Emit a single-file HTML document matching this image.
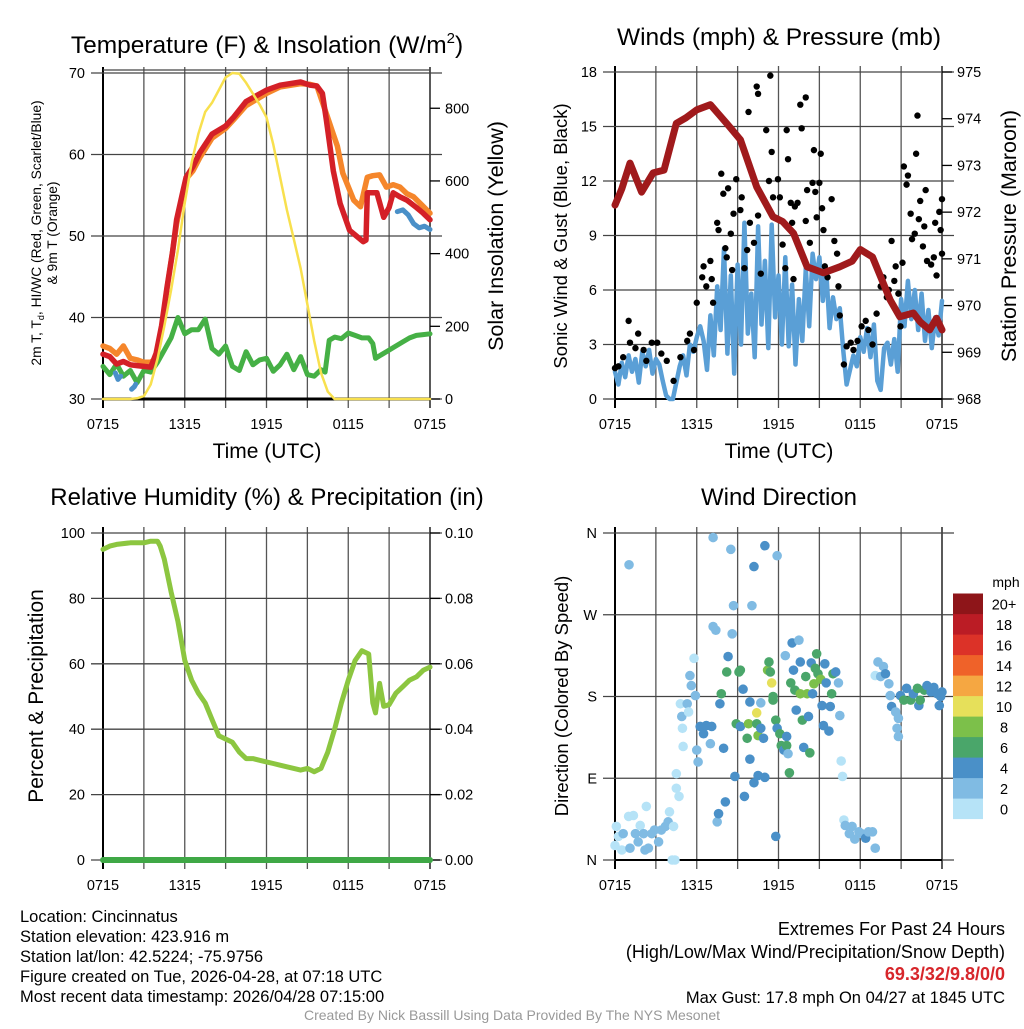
<!DOCTYPE html>
<html><head><meta charset="utf-8"><style>
body{margin:0;background:#fff;width:1024px;height:1024px;overflow:hidden;font-family:"Liberation Sans",Arial,sans-serif;}
svg text{font-family:"Liberation Sans",Arial,sans-serif;}
</style></head><body>
<svg id="chart" width="1024" height="1024" viewBox="0 0 1024 1024" xmlns="http://www.w3.org/2000/svg">
<g id="static">
<text x="267" y="53" font-size="24.5" text-anchor="middle">Temperature (F) &amp; Insolation (W/m<tspan dy="-10" font-size="15">2</tspan><tspan dy="10">)</tspan></text>
<text x="779" y="45" font-size="24.5" text-anchor="middle">Winds (mph) &amp; Pressure (mb)</text>
<text x="267" y="505" font-size="24" text-anchor="middle">Relative Humidity (%) &amp; Precipitation (in)</text>
<text x="779" y="505" font-size="24" text-anchor="middle">Wind Direction</text>
<text transform="translate(41,233) rotate(-90)" font-size="13.8" text-anchor="middle">2m T, T<tspan font-size="9" dy="3">d</tspan><tspan dy="-3">, HI/WC (Red, Green, Scarlet/Blue)</tspan></text>
<text transform="translate(57,233) rotate(-90)" font-size="13.8" text-anchor="middle">&amp; 9m T (Orange)</text>
<text transform="translate(503,236) rotate(-90)" font-size="21.5" text-anchor="middle">Solar Insolation (Yellow)</text>
<text transform="translate(567,236) rotate(-90)" font-size="18.5" text-anchor="middle">Sonic Wind &amp; Gust (Blue, Black)</text>
<text transform="translate(1016,236) rotate(-90)" font-size="21.5" text-anchor="middle">Station Pressure (Maroon)</text>
<text transform="translate(43,696) rotate(-90)" font-size="21" text-anchor="middle">Percent &amp; Precipitation</text>
<text transform="translate(568,696) rotate(-90)" font-size="18.5" text-anchor="middle">Direction (Colored By Speed)</text>
<text x="267" y="458" font-size="21" text-anchor="middle">Time (UTC)</text>
<text x="779" y="458" font-size="21" text-anchor="middle">Time (UTC)</text>
<text x="1006" y="587" font-size="14" text-anchor="middle">mph</text>
<g font-size="16.5">
<text x="20" y="922">Location: Cincinnatus</text>
<text x="20" y="942">Station elevation: 423.916 m</text>
<text x="20" y="962">Station lat/lon: 42.5224; -75.9756</text>
<text x="20" y="982">Figure created on Tue, 2026-04-28, at 07:18 UTC</text>
<text x="20" y="1002">Most recent data timestamp: 2026/04/28 07:15:00</text>
</g>
<g font-size="18">
<text x="1005" y="935" text-anchor="end">Extremes For Past 24 Hours</text>
<text x="1005" y="958" text-anchor="end">(High/Low/Max Wind/Precipitation/Snow Depth)</text>
<text x="1005" y="980" text-anchor="end" font-weight="bold" fill="#d7262b">69.3/32/9.8/0/0</text>
<text x="1005" y="1003" text-anchor="end" font-size="16.5">Max Gust: 17.8 mph On 04/27 at 1845 UTC</text>
</g>
<text x="512" y="1020" text-anchor="middle" font-size="14" fill="#999">Created By Nick Bassill Using Data Provided By The NYS Mesonet</text>
</g>
<g id="dyn"></g>
</svg>
<script>
// ---- data ----
const timeTicks = ["0715","1315","1915","0115","0715"];
const tempTicks = [30,40,50,60,70];
const solarTicks = [0,200,400,600,800];
const windTicks = [0,3,6,9,12,15,18];
const presTicks = [968,969,970,971,972,973,974,975];
const rhTicks = [0,20,40,60,80,100];
const precipTicks = ["0.00","0.02","0.04","0.06","0.08","0.10"];
const dirTicks = ["N","E","S","W","N"];
const legendLabels = ["0","2","4","6","8","10","12","14","16","18","20+"];

const redT = [0,0.5,1,1.5,2,2.5,3,3.5,3.9,4.3,4.7,5.1,5.4,5.8,6.1,6.6,7.1,8,9,9.6,10.5,12,13,14.5,15.2,15.7,16.1,16.4,16.9,17.4,18.1,18.6,19.1,19.3,19.4,20.1,20.6,21,21.3,21.8,22.3,23,23.5,24];
const redV = [35.5,35.2,34.3,34.6,34.2,34.1,34.0,33.9,35.6,39,43.7,48,52,55,57.2,58.5,60.2,62.5,63.5,64.6,66.5,67.9,68.5,68.9,68.5,68.4,67.5,64.2,58,54,50.7,50,49.3,49.5,55.3,55.3,52.3,53.5,55.3,54.8,54.4,53.5,52.8,52];
const orgT = [0,0.5,1,1.5,2,2.5,3,3.5,3.9,4.3,4.7,5.1,5.4,5.8,6.1,6.6,7.1,8,9,9.6,10.5,12,13,14.5,15.2,15.7,16.4,16.8,17.2,17.6,18.4,18.9,19.4,19.8,20.3,20.8,21.3,21.8,22.3,22.8,23.4,24];
const orgV = [36.5,36.2,35.5,36.5,35,34.8,34.5,34.5,35,38.5,43.5,48,51.5,54.8,57,58,59.6,62,63.2,64.3,66,67.5,68.3,68.7,68.6,68.4,65,63,61,57.7,54.4,53.6,57.2,57.4,57.5,56,56.3,56,55.2,54.8,53.8,52.8];
const blueT = [0.9,1.1,1.3, 2.1,2.3,2.4, 21.6,22,22.4,22.8,23.2,23.6,24];
const blueV = [33.2,32.4,32.8, 31.2,31.5,31.8, 53,53.2,52.6,51.5,51,51.2,50.8];
const dewT = [0,0.5,1,1.5,2,2.5,3,3.5,4,4.5,5,5.5,6,6.5,7,7.5,8,8.5,9,9.5,10,10.5,11,11.5,12,12.5,13,13.5,14,14.5,15,15.5,16,16.3,16.6,17,17.5,18,18.5,19,19.5,19.8,20,20.5,21,21.5,22,22.5,23,23.5,24];
const dewV = [34,33,34.3,32.8,33.5,32,33.5,33.3,34.5,36,37.5,40,38,38.5,38.5,39.8,36.2,35.5,36.5,34,33.5,35.8,34.2,34.8,35,33.4,34.2,35.5,33.6,35.2,33,32.8,33.6,33.3,37.2,37.6,37.4,38.1,37.8,37.5,37.5,36.8,35,35.5,36,36.5,37,37.5,37.8,37.9,38];
const solT = [0,2,2.5,3,3.5,4,4.5,5,5.5,6,6.5,7,7.5,8,8.5,9,9.5,10,10.5,11,11.5,12,12.5,13,13.5,14,14.5,15,15.5,16,16.5,17,24];
const solV = [0,0,2,8,40,110,200,300,410,540,650,730,790,815,850,885,897,895,870,840,810,775,700,610,520,440,360,260,160,72,20,0,0];

const windV = [1.5,0.8,2.0,1.2,2.4,1.5,2.2,0.9,2.6, 1.8,2.7,1.4,2.2,1.9,1.0,0.2,0.0, 0.0,0.9,1.8,2.4,1.3,3.0,2.6,3.4, 4.0,3.2,1.6,4.6,2.4,6.2,3.8,8.3, 2.5,6.8,1.4,7.4,3.0,9.7,3.6,5.8, 2.3,9.5,4.1,7.6,2.8,9.6,4.5,6.8, 3.0,7.8,2.9,6.3,1.9,5.5,3.2,7.2, 4.0,8.0,6.6,7.8,5.4,7.1,3.9,5.6, 4.4,5.0,2.7,0.8,1.6,2.4,1.8,3.4, 2.6,3.9,2.3,4.1,1.0,0.5,2.8,3.1, 1.9,3.3,1.5,5.5,4.0,6.5,4.4,6.0, 3.8,5.8,3.2,4.9,2.8,4.5,3.5,5.4];
const gustT = [0,0.25,0.6,1,1.1,1.5,1.7,2.1,2.3,2.7,3.1,3.4,3.8,4.3,4.8,5.3,5.5,5.8,6,6.4,6.5,6.7,7,7.1,7.2,7.5,7.6,7.8,7.95,8.1,8.2,8.3,8.5,8.6,8.7,8.9,9.2,9.3,9.5,9.7,9.8,9.9,10.2,10.4,10.5,10.5,10.7,11.1,11.3,11.4,11.5,11.6,11.96,12.1,12.3,12.5,12.6,12.7,12.9,13,13.1,13.2,13.4,13.6,13.7,14,14,14.1,14.3,14.5,14.6,14.7,14.8,15,15.1,15.2,15.3,15.4,15.6,15.9,16.1,16.3,16.4,16.5,16.8,17,17.3,17.5,17.8,18.1,18.4,18.6,18.9,19.2,19.5,19.7,19.95,20.1,20.3,20.5,20.6,20.8,20.95,21.1,21.2,21.4,21.5,21.7,21.8,22,22.1,22.2,22.3,22.4,22.6,22.7,22.8,22.9,23.2,23.4,23.5,23.6,23.8,23.9,24,24];
const gustV = [1.7,1.8,2.3,4.3,3.1,2.8,3.6,2.7,2.1,3.1,3.1,2.5,2.1,1.0,2.3,3.2,3.6,2.7,5.3,6.7,7.3,6.2,7.6,6.6,5.3,9.7,9.3,12.4,11.3,8.3,7.8,11.6,9.1,7.1,10.2,12.1,10.4,11.1,7.2,8.2,15.8,9.7,8.6,17.2,16.8,10.1,6.9,14.8,12.0,17.8,13.6,11.1,12.1,11.1,8.5,7.2,14.8,13.2,10.8,9.7,6.6,10.6,10.8,16.2,14.9,16.6,9.8,11.5,8.6,11.9,13.7,11.4,10.0,11.9,13.5,10.5,9.3,7.3,6.7,11.0,8.7,8.0,6.2,4.6,1.9,2.9,3.1,2.7,3.2,4.0,4.3,3.8,3.0,4.7,6.2,6.7,5.6,6.0,8.7,6.5,7.3,5.8,4.0,7.5,12.8,11.8,12.3,10.2,8.8,9.1,13.5,15.6,9.9,10.9,8.4,9.5,11.5,7.6,7.4,7.8,9.7,6.8,10.3,9.3,11.0,8.0];
const presT = [0,0.5,1.1,1.95,2.8,3.6,4.5,5.2,6,7,7.6,8.2,9.2,10.4,11.6,12.3,13.1,14.1,15.3,16.5,17.4,18,18.9,20.2,20.9,21.4,21.9,22.4,23.1,23.6,24];
const presV = [972.15,972.5,973.05,972.43,972.84,972.9,973.9,974.02,974.19,974.3,974.1,973.9,973.55,972.54,971.9,971.8,971.55,970.83,970.7,970.83,970.95,971.2,971.04,970.12,969.76,969.8,969.84,969.65,969.48,969.73,969.48];

const rhT = [0,0.5,1,2,3,3.5,4,4.2,4.5,5,5.5,6,6.5,7,7.5,8,8.5,9,9.5,10,10.5,11,11.5,12,12.5,13,13.5,14,14.5,15,15.5,16,16.5,17,17.5,18,18.5,19,19.5,19.8,20,20.3,20.6,21,21.5,22,22.5,23,23.5,24];
const rhV = [95,96,96.5,97,97,97.5,97.5,96,92,82,73,61,55,51,48,43,38,37,36,33,31,31,30.5,30,29.5,29,28.5,28,27.5,28,27,28,33,40,48,55,61,64,63,48,45,54,47,47.5,51,53,55,56,58,59];
const precipT = [0,24];
const precipV = [0,0];

const dirT = [1.03,0.1,0.25,0,0.5,0.6,1,1.35,1.1,1.5,1.7,1.85,2.1,2.3,2.2,2.45,2.7,2.9,3.2,3.4,3.7,4.0,3.9,4.3,4.5,4.7,4.2,4.4,4.5,4.8,4.9,5.0,4.95,5.3,5.4,5.5,5.6,5.8,5.9,6.0,6.1,6.25,6.5,6.7,7.0,7.1,7.2,7.2,7.4,7.5,7.6,7.7,7.8,7.97,8.1,8.2,8.3,8.5,8.6,8.7,8.8,8.9,9.1,9.2,9.2,9.4,9.5,9.7,9.8,9.9,9.9,10.2,10.05,10.2,10.4,10.4,10.5,10.5,10.7,10.7,10.9,11,11,11.2,11.3,11.4,11.5,11.6,11.6,11.8,11.8,11.9,11.9,12.1,12.2,12.4,12.5,12.6,12.6,12.7,12.8,12.9,13.0,13.1,13.2,13.3,13.5,13.6,13.6,13.75,13.85,14.0,14.1,14.2,14.3,14.4,14.5,14.6,14.7,14.8,14.9,15.1,15.2,15.3,15.4,15.5,15.7,15.8,15.9,16.0,16.2,16.4,16.5,16.6,16.7,16.8,16.9,17.2,17.4,17.6,17.9,18.1,18.4,18.6,18.9,19.1,19.1,19.3,19.5,19.7,19.85,20.1,20.2,20.3,20.6,20.8,20.7,20.8,20.95,21.2,21.4,21.7,21.9,22.2,22.3,22.4,22.7,22.9,23.2,23.4,23.65,23.9,24,23.8];
const dirDeg = [325,37,26,16,11,29,48,49,13,29,20,38,29,59,11,13,29,33,20,33,37,53,42,37,79,70,0,0,95,172,158,125,145,172,163,203,192,222,181,121,108,147,139,148,128,147,355,257,253,42,51,172,183,123,64,207,224,342,249,280,92,150,207,209,147,188,70,134,150,174,111,323,280,85,162,150,137,93,173,145,134,91,346,209,218,207,195,180,176,154,26,335,145,139,126,121,225,136,126,117,96,195,239,209,187,165,242,218,183,154,124,202,183,158,118,217,183,194,211,227,205,199,170,148,216,195,142,169,183,205,207,195,159,109,92,44,38,29,37,23,31,29,24,31,31,13,203,218,202,213,205,194,181,169,163,156,145,136,181,176,189,176,183,189,170,176,187,192,185,190,183,180,185,170];
const dirSpd = [3,1,1,1,1,3,1,1,3,3,3,1,3,1,3,3,3,3,3,3,3,1,3,1,1,1,1,1,1,1,3,1,1,3,1,3,3,1,3,3,3,5,5,5,3,5,3,3,3,3,5,5,7,5,5,7,5,3,3,3,5,7,7,7,5,5,5,7,9,5,5,5,3,5,11,7,9,5,3,5,5,5,5,9,7,7,11,7,7,7,5,3,5,7,7,5,3,5,7,3,7,7,5,5,7,5,3,5,9,7,5,7,9,5,7,5,5,9,7,7,7,9,5,5,5,5,5,5,7,7,5,3,3,1,1,1,3,3,3,3,3,3,5,3,3,3,1,3,3,3,5,3,3,5,3,3,3,3,5,7,5,7,5,7,5,7,7,5,5,5,5,5,5,5,5];

// ---- rendering ----
const NS = "http://www.w3.org/2000/svg";
const root = document.getElementById("dyn");
function mk(tag, attrs, parent) {
  const e = document.createElementNS(NS, tag);
  for (const k in attrs) e.setAttribute(k, attrs[k]);
  (parent || root).appendChild(e);
  return e;
}
const speedColors = ["#b6e3f7","#80bbe3","#4a90c8","#4aa66a","#7cc04a","#e6e05a","#f5a742","#ef6229","#dc3228","#bb1c25","#8e1519"];
function speedColor(s){ return speedColors[Math.min(10, Math.floor(s/2))]; }

function panel(px, py, w, h, tMin, tMax) {
  return {
    x: t => px + (t - tMin) / (tMax - tMin) * w,
    y: (v, lo, hi) => py + h - (v - lo) / (hi - lo) * h,
    px, py, w, h
  };
}
function frame(P, name, hLines, yLo, yHi, leftLabels, rightLabels, rLo, rHi, rightVals) {
  const g = mk("g", {});
  
  
  for (let i = 0; i <= 8; i++) {
    const x = P.px + i * P.w / 8;
    const gl = mk("line", {x1:x, y1:P.py-6, x2:x, y2:P.py+P.h+9, stroke: (i==0||i==8)?"#000":"#555", "stroke-width": (i==0)?2:1.3}, g);
    
    
  }
  for (let i = 0; i < hLines.length; i++) {
    const y = P.y(hLines[i], yLo, yHi);
    const hl = mk("line", {x1:P.px-12, y1:y, x2:P.px+P.w+12, y2:y, stroke:"#444", "stroke-width":1.3}, g);
    
    
    const tx = mk("text", {x:P.px-18, y:y+5, "font-size":14.5, "text-anchor":"end"}, g);
    tx.textContent = leftLabels[i];
    
    
  }
  if (rightLabels) {
    for (let i = 0; i < rightLabels.length; i++) {
      const y = P.y(rightVals[i], rLo, rHi);
      const rl = mk("line", {x1:P.px+P.w, y1:y, x2:P.px+P.w+10, y2:y, stroke:"#000", "stroke-width":1.3}, g);
      
      
      const tx = mk("text", {x:P.px+P.w+15, y:y+5, "font-size":14.5}, g);
      tx.textContent = rightLabels[i];
      
      
    }
  }
  for (let i = 0; i < timeTicks.length; i++) {
    const x = P.px + i * P.w / 4;
    const tx = mk("text", {x:x, y:P.py+P.h+30, "font-size":14.5, "text-anchor":"middle"}, g);
    tx.textContent = timeTicks[i];
    
    
  }
  const bl = mk("line", {x1:P.px, y1:P.py+P.h, x2:P.px+P.w, y2:P.py+P.h, stroke:"#000", "stroke-width":2}, g);
  
  
}
function polyline(P, ts, vs, lo, hi, color, wdt, name) {
  const pts = ts.map((t,i) => P.x(t).toFixed(1)+","+P.y(vs[i],lo,hi).toFixed(1)).join(" ");
  const pl = mk("polyline", {points:pts, fill:"none", stroke:color, "stroke-width":wdt, "stroke-linejoin":"round", "stroke-linecap":"round"});
  
  
}

// Panel 1: temperature
const P1 = panel(103, 73, 327, 326, 0, 24);
frame(P1, 'temperature', tempTicks, 30, 70, tempTicks.map(String), solarTicks.map(String), 0, 897, solarTicks);
const topLine = mk("line",{x1:103,y1:70,x2:430,y2:70,stroke:"#444","stroke-width":1.3});


const botLine = mk("line",{x1:103,y1:399,x2:430,y2:399,stroke:"#000","stroke-width":3});


polyline(P1, dewT, dewV, 30, 70, "#45b045", 5, 'dewpoint-line');
polyline(P1, orgT, orgV, 30, 70, "#f5862b", 5.5, 'temp-9m-line');
polyline(P1, redT, redV, 30, 70, "#d42027", 5.5, 'temp-2m-line');
polyline(P1, blueT.slice(0,3), blueV.slice(0,3), 30, 70, "#4a90c8", 5, 'windchill-seg-1');
polyline(P1, blueT.slice(3,6), blueV.slice(3,6), 30, 70, "#4a90c8", 5, 'windchill-seg-2');
polyline(P1, blueT.slice(6), blueV.slice(6), 30, 70, "#4a90c8", 5, 'windchill-seg-3');
polyline(P1, solT, solV, 0, 897, "#f8e04e", 2.5, 'insolation-line');

// Panel 2: winds
const P2 = panel(615, 72, 327, 327, 0, 24);
frame(P2, 'wind', windTicks, 0, 18, windTicks.map(String), presTicks.map(String), 968, 975, presTicks);
const windT = windV.map((v,i) => i*0.25);
polyline(P2, windT, windV, 0, 18, "#5a9fd6", 4.5, 'sonic-wind-line');
for (let i = 0; i < gustT.length; i++) {
  const c = mk("circle", {cx:P2.x(gustT[i]), cy:P2.y(gustV[i],0,18), r:3.2, fill:"#000"});
  
  
}
polyline(P2, presT, presV, 968, 975, "#a01a1c", 7, 'pressure-line');

// Panel 3: RH
const P3 = panel(103, 533, 327, 327, 0, 24);
frame(P3, 'humidity', rhTicks, 0, 100, rhTicks.map(String), precipTicks, 0, 100, rhTicks);
polyline(P3, rhT, rhV, 0, 100, "#8cc640", 5, 'rh-line');
polyline(P3, precipT, precipV, 0, 0.1, "#3fa846", 6, 'precip-line');

// Panel 4: direction
const P4 = panel(615, 533, 327, 327, 0, 24);
frame(P4, 'direction', [0,90,180,270,360], 0, 360, dirTicks, null, 0, 0, null);
for (let i = 0; i < dirT.length; i++) {
  const c = mk("circle", {cx:P4.x(dirT[i]), cy:P4.y(dirDeg[i],0,360), r:4.8, fill:speedColor(dirSpd[i])});
  
  
}
// legend
for (let i = 0; i < legendLabels.length; i++) {
  const y = 819 - (i+1)*20.5;
  const r = mk("rect", {x:953, y:y, width:30, height:20.6, fill:speedColors[i]});
  
  
  const t = mk("text", {x:1004, y:y+16, "font-size":14.5, "text-anchor":"middle"});
  t.textContent = legendLabels[i];
  
  
}
</script>
</body></html>
